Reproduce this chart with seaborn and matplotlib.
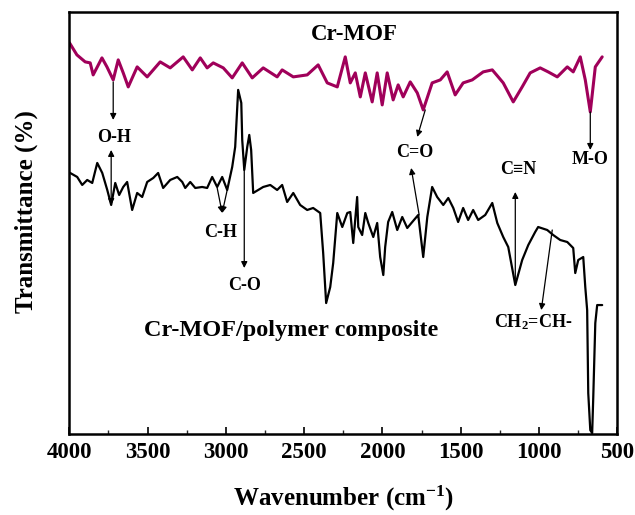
import matplotlib
matplotlib.use("Agg")
import matplotlib.pyplot as plt
import seaborn as sns
import pandas as pd

# ---- data (wavenumber in cm-1, transmittance in arbitrary units) ----
mof_wn = [3998, 3951, 3898, 3866, 3847, 3791, 3759, 3719, 3687, 3655, 3623, 3566, 3502,
          3419, 3355, 3272, 3214, 3163, 3119, 3080, 3016, 2959, 2895, 2831, 2761, 2672,
          2640, 2569, 2480, 2410, 2352, 2288, 2237, 2205, 2173, 2141, 2109, 2065, 2033,
          2001, 1969, 1931, 1899, 1867, 1822, 1777, 1739, 1682, 1630, 1586, 1535, 1484,
          1426, 1356, 1298, 1260, 1228, 1164, 1107, 1056, 992, 941, 883, 819, 781, 736,
          704, 672, 640, 596]
mof_t = [391, 379, 372, 371, 359, 376, 367, 354, 374, 361, 347, 367, 357,
         372, 366, 377, 364, 376, 366, 371, 366, 356, 371, 356, 366, 357,
         364, 357, 359, 369, 351, 347, 377, 351, 361, 337, 361, 332, 361,
         329, 361, 334, 349, 337, 352, 341, 324, 351, 354, 362, 339, 351,
         354, 362, 364, 357, 351, 332, 347, 361, 366, 362, 357, 367, 362, 377,
         354, 322, 367, 377]

comp_wn = [3994, 3949, 3917, 3885, 3853, 3821, 3789, 3757, 3732, 3706, 3681, 3655, 3630,
           3598, 3566, 3534, 3502, 3463, 3432, 3400, 3355, 3310, 3278, 3259, 3227, 3195,
           3151, 3119, 3087, 3055, 3023, 2991, 2959, 2940, 2921, 2901, 2895, 2882, 2863,
           2850, 2838, 2825, 2793, 2761, 2716, 2672, 2640, 2608, 2569, 2525, 2480, 2442,
           2397, 2378, 2359, 2333, 2314, 2288, 2256, 2224, 2205, 2186, 2161, 2154, 2129,
           2109, 2090, 2058, 2033, 2014, 1994, 1982, 1963, 1937, 1905, 1873, 1841, 1809,
           1771, 1739, 1713, 1682, 1650, 1611, 1579, 1547, 1516, 1484, 1452, 1420, 1388,
           1343, 1298, 1266, 1228, 1196, 1151, 1107, 1068, 1024, 1005, 947, 909, 864, 819,
           781, 768, 749, 717, 704, 692, 685, 672, 660, 653, 640, 628, 596]
comp_t = [261, 257, 249, 254, 251, 271, 261, 244, 229, 251, 239, 247, 252,
          224, 241, 237, 252, 256, 261, 246, 254, 257, 252, 246, 252, 246,
          247, 246, 257, 247, 257, 244, 267, 287, 344, 331, 294, 264, 287,
          299, 284, 241, 244, 247, 249, 244, 249, 232, 241, 229, 224, 226,
          221, 181, 131, 147, 171, 221, 207, 221, 222, 191, 237, 207, 199,
          221, 211, 197, 211, 177, 159, 187, 212, 222, 204, 217, 206, 212,
          219, 177, 217, 247, 237, 229, 236, 226, 212, 226, 214, 224, 214,
          219, 231, 211, 197, 187, 149, 174, 189, 202, 207, 204, 199, 194, 192,
          186, 161, 174, 177, 147, 124, 41, 4, 1, 37, 111, 129, 129]

df = pd.concat([
    pd.DataFrame({"wn": mof_wn, "T": mof_t, "sample": "Cr-MOF"}),
    pd.DataFrame({"wn": comp_wn, "T": comp_t, "sample": "Cr-MOF/polymer composite"}),
])

sns.set_theme(style="white")
plt.rcParams["font.family"] = ["Liberation Serif", "DejaVu Serif"]
plt.rcParams["font.weight"] = "bold"
plt.rcParams["mathtext.fontset"] = "custom"
plt.rcParams["mathtext.rm"] = "Liberation Serif:bold"
plt.rcParams["mathtext.bf"] = "Liberation Serif:bold"
plt.rcParams["mathtext.it"] = "Liberation Serif:bold:italic"
plt.rcParams["mathtext.default"] = "bf"

fig = plt.figure(figsize=(6.35, 5.15), dpi=100)
ax = fig.add_axes([0.109, 0.157, 0.972 - 0.109, 0.977 - 0.157])

sns.lineplot(data=df, x="wn", y="T", hue="sample", size="sample",
             sizes={"Cr-MOF": 2.2, "Cr-MOF/polymer composite": 1.6},
             estimator=None,
             palette={"Cr-MOF": "#A0005A", "Cr-MOF/polymer composite": "black"},
             legend=False, ax=ax, sort=True)

ax.set_xlim(4000, 500)
ax.set_ylim(0, 422)
ax.set_yticks([])
ax.set_xticks([4000, 3500, 3000, 2500, 2000, 1500, 1000, 500])
ax.set_xticks([3750, 3250, 2750, 2250, 1750, 1250, 750], minor=True)
ax.tick_params(axis="x", which="major", direction="in", length=5, width=1.2,
               labelsize=16.5, pad=6, bottom=True, colors="black")
ax.tick_params(axis="x", which="minor", direction="in", length=3, width=1.0, bottom=True)
for lab in ax.get_xticklabels():
    lab.set_fontweight("bold")
for sp in ax.spines.values():
    sp.set_color("black")
    sp.set_linewidth(1.8)

ax.set_xlabel("Wavenumber (cm$^{-1}$)", fontsize=18, fontweight="bold", labelpad=15, color="black")
ax.set_ylabel("Transmittance (%)", fontsize=18, fontweight="bold", color="black")
ax.yaxis.set_label_coords(-0.057, 0.526)

# sample names
ax.text(2180, 399, "Cr-MOF", fontsize=16.5, fontweight="bold", ha="center", va="center", color="black")
ax.text(2582, 104, "Cr-MOF/polymer composite", fontsize=17.5, fontweight="bold",
        ha="center", va="center", color="black")

lab_kw = dict(fontsize=13, fontweight="bold", ha="center", va="center", color="black")
arr = dict(arrowstyle="-|>", color="black", lw=0.9, mutation_scale=9, shrinkA=0, shrinkB=0)
arr2 = dict(arrowstyle="<|-|>", color="black", lw=0.9, mutation_scale=9, shrinkA=0, shrinkB=0)

# O-H
ax.annotate("", xy=(3719, 314), xytext=(3719, 352), arrowprops=arr)
ax.text(3713, 296, "O-H", **lab_kw)
ax.annotate("", xy=(3732, 229), xytext=(3732, 284), arrowprops=arr2)
# C-H
ax.annotate("", xy=(3023, 221), xytext=(3055, 246), arrowprops=arr)
ax.annotate("", xy=(3023, 221), xytext=(2991, 244), arrowprops=arr)
ax.text(3036, 202, "C-H", **lab_kw)
# C-O
ax.annotate("", xy=(2882, 166), xytext=(2882, 264), arrowprops=arr)
ax.text(2882, 149, "C-O", **lab_kw)
# C=O
ax.annotate("", xy=(1777, 297), xytext=(1726, 324), arrowprops=arr)
ax.annotate("", xy=(1816, 266), xytext=(1765, 219), arrowprops=arr)
ax.text(1790, 281, "C=O", **lab_kw)
# C≡N
ax.annotate("", xy=(1151, 242), xytext=(1151, 150), arrowprops=arr)
ax.text(1132, 264, "C≡N", **lab_kw)
# M-O
ax.annotate("", xy=(672, 284), xytext=(672, 322), arrowprops=arr)
ax.text(672, 274, "M-O", **lab_kw)
# CH2=CH-
ax.annotate("", xy=(985, 124), xytext=(915, 204), arrowprops=arr)
ax.text(1037, 112, "CH$_2$=CH-", **lab_kw)

fig.savefig("out.png", dpi=100)
